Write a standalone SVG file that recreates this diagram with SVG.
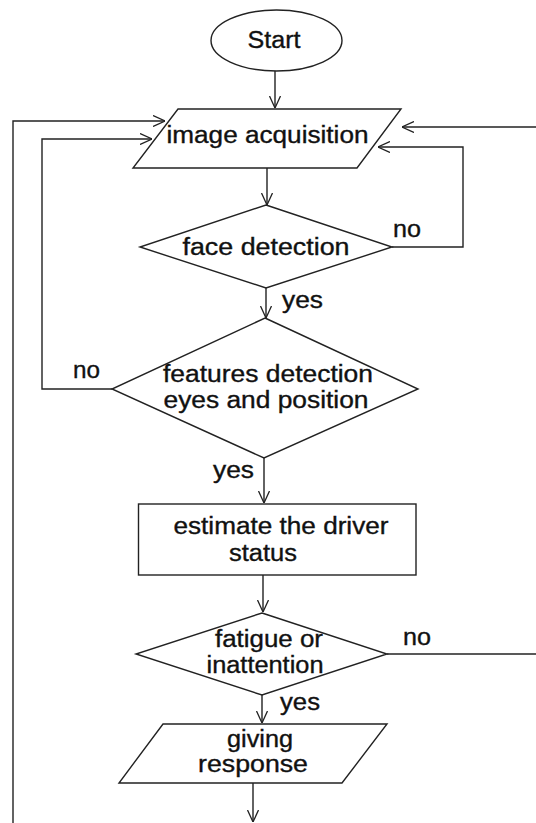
<svg xmlns="http://www.w3.org/2000/svg" width="536" height="823" viewBox="0 0 536 823">
<defs>
<marker id="arr" viewBox="0 0 12 12" refX="12" refY="6" markerWidth="12" markerHeight="12" markerUnits="userSpaceOnUse" orient="auto">
<path d="M0,0.5 L12,6 L0,11.5" fill="none" stroke="#222" stroke-width="1.3"/>
</marker>
</defs>
<style>
.shape{fill:#fff;stroke:#222;stroke-width:1.4}
.line{fill:none;stroke:#222;stroke-width:1.4}
.arrow{fill:none;stroke:#222;stroke-width:1.4;marker-end:url(#arr)}
text{font-family:"Liberation Sans",Arial,sans-serif;font-size:23px;fill:#111;stroke:#111;stroke-width:0.35}
.c{text-anchor:middle}
</style>
<rect width="536" height="823" fill="#fff"/>
<g id="connectors">
<path class="arrow" d="M275,71 L275,108"/>
<path class="arrow" d="M267,168 L267,205"/>
<path class="arrow" d="M266,288 L266,318"/>
<path class="arrow" d="M264,458 L264,503"/>
<path class="arrow" d="M263,575 L263,612"/>
<path class="arrow" d="M262,695 L262,723"/>
<path class="arrow" d="M253,783 L253,822"/>
<path class="arrow" d="M392,247 L463,247 L463,147 L378,147"/>
<path class="arrow" d="M112,389 L42,389 L42,139 L152,139"/>
<path class="arrow" d="M13,823 L13,121 L165,121"/>
<path class="arrow" d="M536,127 L402,127"/>
<path class="line" d="M387,654 L536,654"/>
<text x="393" y="237" textLength="28" lengthAdjust="spacingAndGlyphs">no</text>
<text x="282" y="308" textLength="41" lengthAdjust="spacingAndGlyphs">yes</text>
<text x="73" y="378" textLength="27" lengthAdjust="spacingAndGlyphs">no</text>
<text x="213" y="478" textLength="41" lengthAdjust="spacingAndGlyphs">yes</text>
<text x="403" y="645" textLength="28" lengthAdjust="spacingAndGlyphs">no</text>
<text x="280" y="710" textLength="40" lengthAdjust="spacingAndGlyphs">yes</text>
</g>
<g id="start">
<ellipse class="shape" cx="276.5" cy="40.5" rx="65.5" ry="30.5"/>
<text class="c" x="274" y="48" textLength="53" lengthAdjust="spacingAndGlyphs">Start</text>
</g>
<g id="image-acquisition">
<polygon class="shape" points="178,109 401,109 357,168 133,168"/>
<text class="c" x="267.5" y="143" textLength="202" lengthAdjust="spacingAndGlyphs">image acquisition</text>
</g>
<g id="face-detection">
<polygon class="shape" points="266,205 392,247 266,288 140,247"/>
<text class="c" x="266" y="255" textLength="167" lengthAdjust="spacingAndGlyphs">face detection</text>
</g>
<g id="features-detection">
<polygon class="shape" points="265,318 418,389 264,458 112,389"/>
<text class="c" x="268" y="382" textLength="210" lengthAdjust="spacingAndGlyphs">features detection</text>
<text class="c" x="266" y="408" textLength="205" lengthAdjust="spacingAndGlyphs">eyes and position</text>
</g>
<g id="estimate-status">
<rect class="shape" x="138.5" y="504" width="277.5" height="71"/>
<text class="c" x="281" y="534" textLength="215" lengthAdjust="spacingAndGlyphs">estimate the driver</text>
<text class="c" x="263" y="561" textLength="68" lengthAdjust="spacingAndGlyphs">status</text>
</g>
<g id="fatigue">
<polygon class="shape" points="262,613 387,654 262,695 136,654"/>
<text class="c" x="269" y="647" textLength="108" lengthAdjust="spacingAndGlyphs">fatigue or</text>
<text class="c" x="265" y="673" textLength="117" lengthAdjust="spacingAndGlyphs">inattention</text>
</g>
<g id="giving-response">
<polygon class="shape" points="163,724 387,724 342,783 119,783"/>
<text class="c" x="260" y="747" textLength="66" lengthAdjust="spacingAndGlyphs">giving</text>
<text class="c" x="253" y="772" textLength="110" lengthAdjust="spacingAndGlyphs">response</text>
</g>
</svg>
